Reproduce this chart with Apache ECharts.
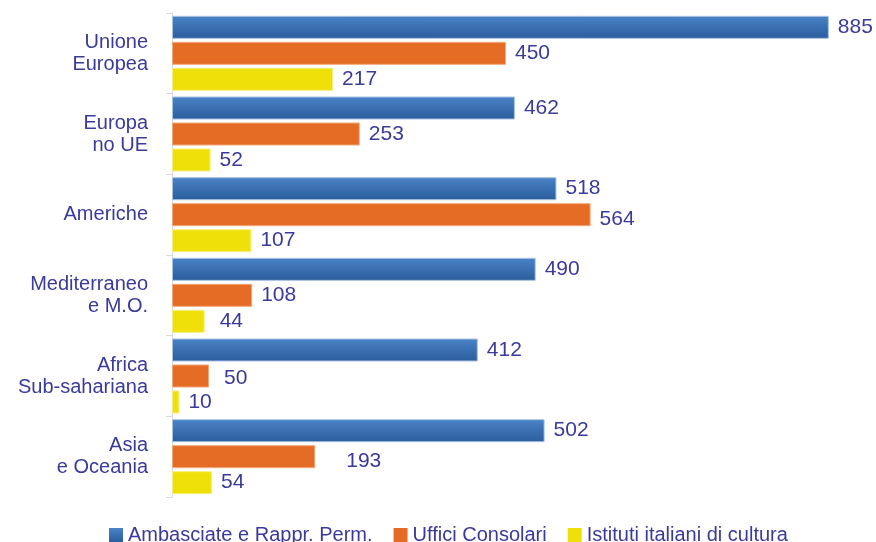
<!DOCTYPE html>
<html>
<head>
<meta charset="utf-8">
<script src="https://cdn.jsdelivr.net/npm/echarts@6/dist/echarts.min.js"></script>
<style>
  html, body { margin: 0; padding: 0; background: #fff; }
  #chart { width: 876px; height: 542px; }
</style>
</head>
<body>
<div id="chart"></div>
<script>
// aree geografiche (dall'alto in basso)
var categorie = ['Unione\nEuropea', 'Europa\nno UE', 'Americhe', 'Mediterraneo\ne M.O.', 'Africa\nSub-sahariana', 'Asia\ne Oceania'];
var nomiSerie = ['Ambasciate e Rappr. Perm.', 'Uffici Consolari', 'Istituti italiani di cultura'];
var ambasciate = [885, 462, 518, 490, 412, 502];
var uffici = [450, 253, 564, 108, 50, 193];
var istituti = [217, 52, 107, 44, 10, 54];

var testo = '#3A3A9A';
var font = 'Liberation Sans, Arial, sans-serif';

// qualche etichetta nel grafico originale è spostata a mano
function conOffset(valori, spostamenti) {
  return valori.map(function (v, i) {
    var s = spostamenti[i];
    if (!s) return v;
    return { value: v, label: { offset: s } };
  });
}

var chart = echarts.init(document.getElementById('chart'));

var etichetta = {
  show: true,
  position: 'right',
  distance: 9,
  color: testo,
  fontSize: 21,
  fontFamily: font
};

var option = {
  backgroundColor: '#ffffff',
  animation: false,
  grid: { left: 172, right: 36, top: 13, height: 484 },
  legend: {
    top: 520,
    left: 104,
    icon: 'rect',
    itemWidth: 14,
    itemHeight: 14,
    itemGap: 21,
    itemStyle: { borderWidth: 0 },
    textStyle: { color: testo, fontSize: 20, fontFamily: font },
    data: nomiSerie
  },
  xAxis: {
    type: 'value',
    min: 0,
    max: 900,
    show: false
  },
  yAxis: {
    type: 'category',
    data: categorie,
    inverse: true,
    offset: 9,
    axisLine: { show: true, lineStyle: { color: '#D9D9D9', width: 1 } },
    axisTick: { show: true, length: 6, lineStyle: { color: '#D9D9D9' } },
    axisLabel: {
      color: testo,
      fontSize: 20,
      fontFamily: font,
      lineHeight: 22,
      margin: 15,
      align: 'right'
    },
    splitLine: { show: false }
  },
  series: [
    {
      name: nomiSerie[0],
      type: 'bar',
      barWidth: 23,
      barGap: '13%',
      data: ambasciate,
      itemStyle: {
        color: new echarts.graphic.LinearGradient(0, 0, 0, 1, [
          { offset: 0, color: '#4A83C7' },
          { offset: 1, color: '#2A5D9C' }
        ]),
        borderColor: '#A9C2E3',
        borderWidth: 1
      },
      label: etichetta
    },
    {
      name: nomiSerie[1],
      type: 'bar',
      barWidth: 23,
      barGap: '13%',
      data: conOffset(uffici, { 2: [0, 5], 4: [6, 2], 5: [22, 5] }),
      itemStyle: { color: '#E46C24', borderColor: '#F4A878', borderWidth: 1 },
      label: etichetta
    },
    {
      name: nomiSerie[2],
      type: 'bar',
      barWidth: 23,
      barGap: '13%',
      data: conOffset(istituti, { 3: [6, 0] }),
      itemStyle: { color: '#F0E00A', borderColor: '#F8EE80', borderWidth: 1 },
      label: etichetta
    }
  ]
};

chart.setOption(option);
</script>
</body>
</html>
